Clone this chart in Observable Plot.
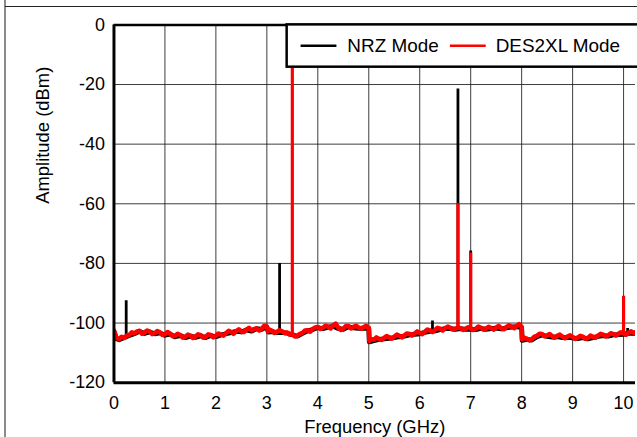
<!DOCTYPE html>
<html>
<head>
<meta charset="utf-8">
<script src="https://cdn.jsdelivr.net/npm/d3@7"></script>
<script src="https://cdn.jsdelivr.net/npm/@observablehq/plot@0.6"></script>
<style>
  html, body { margin: 0; padding: 0; background: #fff; overflow: hidden; width: 637px; height: 437px; }
  #wrap { position: relative; width: 637px; height: 437px; overflow: hidden; }
  #chart { position: absolute; left: 0; top: 0; }
  #vline { position: absolute; left: 4px; top: 0; width: 1.5px; height: 437px; background: #8a8a8a; }
  #hline { position: absolute; left: 5px; top: 6px; width: 640px; height: 1px; background: #222; }
</style>
</head>
<body>
<div id="wrap">
  <div id="chart"></div>
  <div id="vline"></div>
  <div id="hline"></div>
</div>
<script>
// ---- data ----
const seriesNames = ["NRZ Mode", "DES2XL Mode"];
const xTicks = [0, 1, 2, 3, 4, 5, 6, 7, 8, 9, 10];
const yTicks = [0, -20, -40, -60, -80, -100, -120];

// NRZ noise floor (mostly hidden under the red trace)
const nrzFreq = [
  0, 0.05, 0.1, 0.2, 0.3, 0.4, 0.5, 0.6, 0.7, 0.8, 0.9, 1.0, 1.1, 1.2, 1.3, 1.4, 1.5, 1.6, 1.7, 1.8, 1.9,
  2.0, 2.1, 2.2, 2.3, 2.4, 2.5, 2.6, 2.7, 2.8, 2.9, 3.0,
  3.03, 3.1, 3.2, 3.3, 3.4, 3.5, 3.6, 3.7, 3.8, 3.9, 4.0, 4.1, 4.2, 4.3, 4.4, 4.5, 4.6, 4.7, 4.8, 4.9, 5.0,
  5.01, 5.1, 5.2, 5.3, 5.4, 5.5, 5.6, 5.7, 5.8, 5.9, 6.0, 6.1, 6.2, 6.3, 6.4, 6.5, 6.6, 6.7, 6.8, 6.9,
  7.0, 7.1, 7.2, 7.3, 7.4, 7.5, 7.6, 7.7, 7.8, 7.9, 8.0,
  8.01, 8.1, 8.2, 8.3, 8.4, 8.5, 8.6, 8.7, 8.8, 8.9, 9.0, 9.1, 9.2, 9.3, 9.4, 9.5, 9.6, 9.7, 9.8, 9.9,
  10.0, 10.1, 10.2, 10.25
];
const nrzFloor = [
  -102.8, -105.3, -105.6, -104.9, -104.2, -103.6, -102.8, -103.5, -103.0, -103.6,
  -103.3, -104.1, -103.7, -104.6, -104.2, -104.9, -104.4, -104.8, -104.3, -104.9,
  -104.2, -104.6, -104.0, -103.6, -103.2, -102.8, -103.0, -102.3, -102.7, -101.9,
  -102.1, -101.3,
  -103.0, -102.9, -103.2, -103.1, -103.4, -103.9, -104.4, -103.5, -102.6, -102.2,
  -101.5, -101.9, -101.4, -101.1, -101.8, -102.1, -101.3, -101.6, -101.8, -101.7, -101.8,
  -106.3, -105.9, -105.5, -105.3, -105.1, -104.9, -104.6, -104.4, -104.0, -103.8,
  -103.6, -103.1, -102.8, -102.6, -102.2, -101.9, -101.8, -102.1, -101.9, -102.1,
  -102.0, -102.2, -101.8, -102.1, -101.9, -101.7, -102.0, -101.6, -101.4, -101.2, -101.5,
  -105.8, -105.5, -105.7, -104.6, -104.0, -104.5, -104.7, -104.6, -104.9, -104.8,
  -105.0, -105.2, -104.9, -105.3, -104.9, -104.5, -104.2, -104.4, -104.0, -103.9,
  -103.8, -103.4, -103.5, -103.2
];

// DES2XL noise floor (drawn on top)
const desFreq = [
  0, 0.05, 0.1, 0.15, 0.2, 0.25, 0.3, 0.35, 0.4, 0.45,
  0.5, 0.55, 0.6, 0.65, 0.7, 0.75, 0.8, 0.85, 0.9, 0.95,
  1.0, 1.05, 1.1, 1.15, 1.2, 1.25, 1.3, 1.35, 1.4, 1.45,
  1.5, 1.55, 1.6, 1.65, 1.7, 1.75, 1.8, 1.85, 1.9, 1.95,
  2.0, 2.05, 2.1, 2.15, 2.2, 2.25, 2.3, 2.35, 2.4, 2.45,
  2.5, 2.55, 2.6, 2.65, 2.7, 2.75, 2.8, 2.85, 2.9, 2.95,
  3.0, 3.02, 3.05, 3.1, 3.15, 3.2, 3.25, 3.3, 3.35, 3.4, 3.45,
  3.5, 3.55, 3.6, 3.65, 3.7, 3.75, 3.8, 3.85, 3.9, 3.95,
  4.0, 4.05, 4.1, 4.15, 4.2, 4.25, 4.3, 4.35, 4.4, 4.45,
  4.5, 4.55, 4.6, 4.65, 4.7, 4.75, 4.8, 4.85, 4.9, 4.95,
  5.0, 5.01, 5.05, 5.1, 5.15, 5.2, 5.25, 5.3, 5.35, 5.4, 5.45,
  5.5, 5.55, 5.6, 5.65, 5.7, 5.75, 5.8, 5.85, 5.9, 5.95,
  6.0, 6.05, 6.1, 6.15, 6.2, 6.25, 6.3, 6.35, 6.4, 6.45,
  6.5, 6.55, 6.6, 6.65, 6.7, 6.75, 6.8, 6.85, 6.9, 6.95,
  7.0, 7.05, 7.1, 7.15, 7.2, 7.25, 7.3, 7.35, 7.4, 7.45,
  7.5, 7.55, 7.6, 7.65, 7.7, 7.75, 7.8, 7.85, 7.9, 7.95,
  8.0, 8.01, 8.05, 8.1, 8.15, 8.2, 8.25, 8.3, 8.35, 8.4, 8.45,
  8.5, 8.55, 8.6, 8.65, 8.7, 8.75, 8.8, 8.85, 8.9, 8.95,
  9.0, 9.05, 9.1, 9.15, 9.2, 9.25, 9.3, 9.35, 9.4, 9.45,
  9.5, 9.55, 9.6, 9.65, 9.7, 9.75, 9.8, 9.85, 9.9, 9.95,
  10.0, 10.05, 10.1, 10.15, 10.2, 10.25
];
const desFloor = [
  -102.5, -105.0, -105.4, -104.6, -105.0, -104.2, -104.0, -103.1, -103.5, -102.8,
  -102.6, -103.6, -103.2, -102.5, -102.9, -103.7, -103.4, -102.7, -103.1, -104.0,
  -103.8, -103.0, -103.5, -104.4, -104.3, -103.6, -104.0, -104.9, -104.6, -103.9,
  -104.2, -105.0, -104.5, -103.8, -104.1, -104.9, -104.6, -103.8, -104.0, -104.8,
  -104.3, -103.5, -103.9, -104.2, -103.4, -102.6, -103.0, -103.6, -102.7, -102.1,
  -102.8, -103.0, -102.2, -101.6, -102.5, -102.0, -101.8, -102.5, -101.9, -100.9,
  -101.2, -102.8, -102.2, -102.6, -103.3, -103.0, -102.4, -102.8, -103.4, -103.2, -103.9,
  -103.6, -104.5, -104.2, -103.6, -103.3, -102.5, -102.4, -102.9, -102.0, -101.5,
  -101.3, -102.0, -101.6, -100.9, -101.2, -101.8, -100.8, -100.2, -101.5, -102.3,
  -101.9, -101.0, -101.0, -101.8, -101.3, -100.9, -101.5, -101.9, -101.4, -100.9,
  -101.6, -106.0, -105.4, -105.6, -104.8, -105.3, -105.7, -105.0, -104.4, -104.8, -105.2,
  -104.6, -103.9, -104.3, -104.8, -104.1, -103.5, -103.7, -104.2, -103.5, -102.8,
  -103.3, -103.7, -102.9, -102.2, -102.5, -103.0, -102.3, -101.6, -101.9, -102.5,
  -101.7, -101.2, -101.6, -102.2, -101.9, -101.5, -101.7, -102.3, -101.9, -101.4,
  -101.8, -102.3, -101.9, -101.2, -101.6, -102.2, -101.9, -101.3, -101.7, -102.2,
  -101.5, -101.0, -101.8, -102.1, -101.4, -100.8, -101.2, -101.7, -101.0, -100.4,
  -101.3, -105.5, -104.9, -105.2, -105.8, -105.4, -104.6, -104.3, -103.6, -103.7, -104.4,
  -104.2, -103.7, -104.4, -104.9, -104.3, -103.9, -104.6, -105.1, -104.5, -104.1,
  -104.7, -105.3, -104.9, -104.3, -104.6, -105.3, -105.0, -104.2, -104.6, -104.9,
  -104.2, -103.6, -103.9, -104.5, -104.1, -103.4, -103.7, -104.2, -103.6, -103.1,
  -103.5, -103.9, -103.2, -102.8, -103.3, -103.0
];

const nrzSpikeFreq = [0.24, 3.25, 6.25, 6.75, 7.0, 10.08];
const nrzSpikeBase = [-104.9, -103.1, -102.6, -101.8, -101.8, -103.4];
const nrzSpikePeak = [-92.5, -80.0, -99.3, -21.5, -75.8, -101.8];

const desSpikeFreq = [3.5, 6.75, 7.0, 10.0];
const desSpikeBase = [-103.6, -101.8, -101.8, -103.5];
const desSpikePeak = [-8, -60, -76.5, -91];

// ---- build tables ----
const nrzLine = nrzFreq.map((f, i) => ({f, v: nrzFloor[i]}));
const desLine = desFreq.map((f, i) => ({f, v: desFloor[i]}));
const nrzSpikes = nrzSpikeFreq.map((f, i) => ({f, b: nrzSpikeBase[i], p: nrzSpikePeak[i]}));
const desSpikes = desSpikeFreq.map((f, i) => ({f, b: desSpikeBase[i], p: desSpikePeak[i]}));

const FONT = "'Liberation Sans', Arial, sans-serif";
const fmt = d => String(d);

const chart = Plot.plot({
  width: 640,
  height: 437,
  marginLeft: 114,
  marginRight: 2,
  marginTop: 24.5,
  marginBottom: 53,
  x: {domain: [0, 10.234]},
  y: {domain: [-120, 0]},
  style: {fontFamily: FONT, fontSize: "18px", color: "#000", background: "transparent", overflow: "visible"},
  marks: [
    Plot.gridX(xTicks.slice(1), {stroke: "#1a1a1a", strokeOpacity: 0.85, strokeWidth: 1}),
    Plot.gridY(yTicks.slice(1, -1), {stroke: "#1a1a1a", strokeOpacity: 0.85, strokeWidth: 1}),
    Plot.axisX(xTicks, {tickSize: 0, tickPadding: 14, label: null, fontSize: 18, tickFormat: fmt}),
    Plot.axisY(yTicks, {tickSize: 0, tickPadding: 9, label: null, fontSize: 18, tickFormat: fmt}),
    Plot.line(nrzLine, {x: "f", y: "v", stroke: "#000", strokeWidth: 4.8, clip: true}),
    Plot.ruleX(nrzSpikes, {x: "f", y1: "b", y2: "p", stroke: "#000", strokeWidth: 2.8, clip: true}),
    Plot.line(desLine, {x: "f", y: "v", stroke: "#ff0000", strokeWidth: 4.6, strokeLinejoin: "round", clip: true}),
    Plot.ruleX(desSpikes, {x: "f", y1: "b", y2: "p", stroke: "#ff0000", strokeWidth: 3.2, clip: true}),
    Plot.ruleX([0], {stroke: "#000", strokeWidth: 3}),
    Plot.ruleY([-120], {stroke: "#000", strokeWidth: 3}),
    Plot.ruleY([0], {stroke: "#000", strokeWidth: 2.5}),
    Plot.text(["Frequency (GHz)"], {frameAnchor: "bottom", dy: 45, lineAnchor: "middle", fontSize: 18.5}),
    Plot.text(["Amplitude (dBm)"], {frameAnchor: "left", dx: -71, rotate: -90, lineAnchor: "middle", fontSize: 18.5})
  ]
});

// legend overlaid in the upper right of the plot frame
const svg = d3.select(chart);
const lg = svg.append("g");
lg.append("rect").attr("x", 288).attr("y", 24.5).attr("width", 420).attr("height", 42.5)
  .attr("fill", "#fff").attr("stroke", "#000").attr("stroke-width", 2.5);
const colors = ["#000", "#ff0000"];
const sampleX = [302, 452];
const textX = [349, 498];
seriesNames.forEach((name, i) => {
  lg.append("line").attr("x1", sampleX[i]).attr("x2", sampleX[i] + 36).attr("y1", 46).attr("y2", 46)
    .attr("stroke", colors[i]).attr("stroke-width", 2.6);
  lg.append("text").attr("x", textX[i]).attr("y", 52.5)
    .attr("style", `font-family:${FONT};font-size:19px;text-anchor:start;fill:#000`)
    .text(name);
});

document.getElementById("chart").appendChild(chart);
</script>
</body>
</html>
